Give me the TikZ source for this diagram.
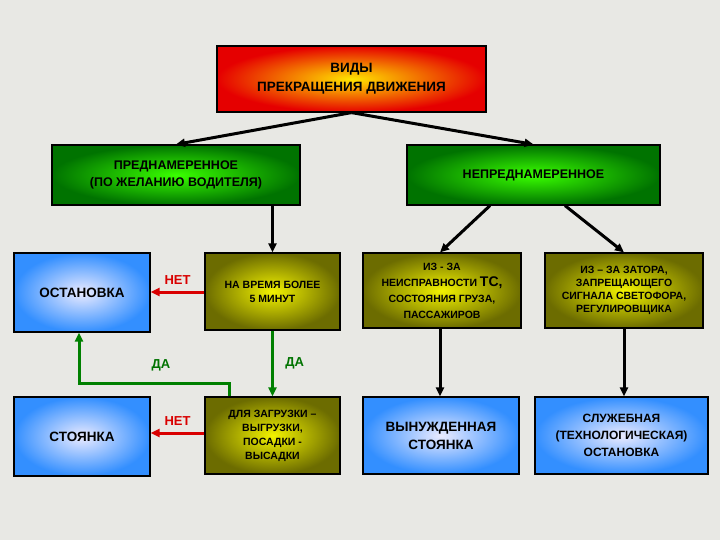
\documentclass[tikz,border=0pt]{standalone}
\usepackage{fontspec}
\setmainfont{Liberation Sans}
\usetikzlibrary{arrows.meta}
\definecolor{bg}{RGB}{232,232,228}
\tikzset{
 base/.style={draw=black, line width=1.2pt, font=\bfseries, align=center, inner sep=2pt},
 redbox/.style={base, inner color=yellow!80!orange, outer color=red!90!black},
 greenbox/.style={base, inner color=green!70!lime, outer color=green!45!black, text=black},
 bluebox/.style={base, inner color=blue!8, outer color=blue!55!cyan!80!white},
 olivebox/.style={base, inner color=yellow!90!olive, outer color=olive!85!black},
 arr/.style={-{Triangle[length=9pt,width=8pt]}, line width=3pt},
 garr/.style={arr, draw=green!50!black},
 rarr/.style={arr, draw=red!85!black},
 glab/.style={font=\bfseries\fontsize{13}{15}\selectfont, text=green!45!black},
 rlab/.style={font=\bfseries\fontsize{13}{15}\selectfont, text=red!85!black}
}
\begin{document}
\begin{tikzpicture}[x=1pt,y=-1pt]
\fill[bg] (0,0) rectangle (720,540);
\useasboundingbox (0,0) rectangle (720,540);
\node[redbox, minimum width=269pt, minimum height=66pt, font=\bfseries\fontsize{13.5}{19}\selectfont] (top) at (351.5,79) {ВИДЫ\\ПРЕКРАЩЕНИЯ ДВИЖЕНИЯ};
\node[greenbox, minimum width=248pt, minimum height=60pt, font=\bfseries\fontsize{12.5}{17}\selectfont] (pre) at (176,175) {ПРЕДНАМЕРЕННОЕ\\(ПО ЖЕЛАНИЮ ВОДИТЕЛЯ)};
\node[greenbox, minimum width=253pt, minimum height=60pt, font=\bfseries\fontsize{12.5}{17}\selectfont] (nep) at (533.5,175) {НЕПРЕДНАМЕРЕННОЕ};
\node[bluebox, minimum width=136pt, minimum height=79pt, font=\bfseries\fontsize{13.5}{17}\selectfont] (ost) at (82,292.5) {ОСТАНОВКА};
\node[olivebox, minimum width=135pt, minimum height=77pt, font=\bfseries\fontsize{10.5}{14}\selectfont] (vr) at (272.5,291.5) {НА ВРЕМЯ БОЛЕЕ\\5 МИНУТ};
\node[olivebox, minimum width=158pt, minimum height=75pt, font=\bfseries\fontsize{10.5}{16}\selectfont] (neis) at (442,290.5) {ИЗ - ЗА\\НЕИСПРАВНОСТИ {\fontsize{14}{15}\selectfont ТС,}\\СОСТОЯНИЯ ГРУЗА,\\ПАССАЖИРОВ};
\node[olivebox, minimum width=158pt, minimum height=75pt, font=\bfseries\fontsize{10.5}{13}\selectfont] (zat) at (624,290.5) {ИЗ – ЗА ЗАТОРА,\\ЗАПРЕЩАЮЩЕГО\\СИГНАЛА СВЕТОФОРА,\\РЕГУЛИРОВЩИКА};
\node[bluebox, minimum width=136pt, minimum height=79pt, font=\bfseries\fontsize{13.5}{17}\selectfont] (sto) at (82,436.5) {СТОЯНКА};
\node[olivebox, minimum width=135pt, minimum height=77pt, font=\bfseries\fontsize{10.5}{14}\selectfont] (dl) at (272.5,435.5) {ДЛЯ ЗАГРУЗКИ –\\ВЫГРУЗКИ,\\ПОСАДКИ -\\ВЫСАДКИ};
\node[bluebox, minimum width=156pt, minimum height=77pt, font=\bfseries\fontsize{13.5}{18}\selectfont] (vyn) at (441,435.5) {ВЫНУЖДЕННАЯ\\СТОЯНКА};
\node[bluebox, minimum width=173pt, minimum height=77pt, font=\bfseries\fontsize{12}{17}\selectfont] (slu) at (621.5,435.5) {СЛУЖЕБНАЯ\\(ТЕХНОЛОГИЧЕСКАЯ)\\ОСТАНОВКА};
% connectors
\draw[arr] (top.south) -- (pre.north);
\draw[arr] (top.south) -- (nep.north);
\draw[arr] (pre.south -| vr.north) -- (vr.north);
\draw[arr] (nep.south -| 490,0) -- ([xshift=-2pt]neis.north);
\draw[arr] (nep.south -| 565,0) -- (zat.north);
\draw[arr] (neis.south -| 440,0) -- (vyn.north -| 440,0);
\draw[arr] (zat.south) -- (zat.south |- slu.north);
\draw[rarr] (vr.west |- 0,292) -- (ost.east |- 0,292) node[rlab, midway, above=3pt] {НЕТ};
\draw[rarr] (dl.west |- 0,433) -- (sto.east |- 0,433) node[rlab, midway, above=3pt] {НЕТ};
\draw[garr] (vr.south) -- (dl.north) node[glab, midway, right=8pt] {ДА};
\draw[garr] (dl.north -| 229,0) |- (79,383) -- (ost.south -| 79,0);
\node[glab] (da2) at (161,365) {ДА};
\end{tikzpicture}
\end{document}
